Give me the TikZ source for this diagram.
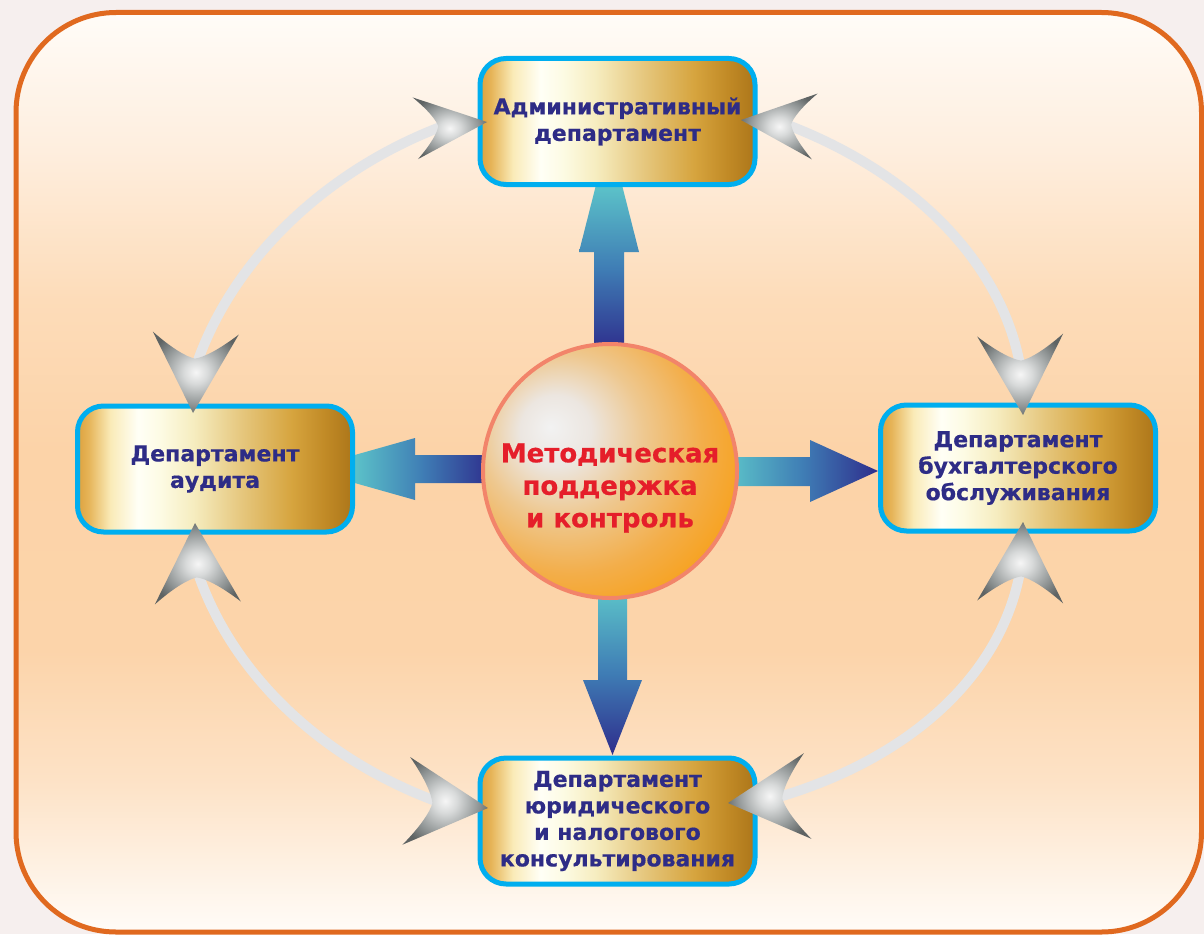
\documentclass[tikz,border=0pt]{standalone}
\usepackage{fontspec}
\setmainfont{DejaVu Sans}[BoldFeatures={FakeBold=0.6}]
\usetikzlibrary{calc}
\pgfdeclarelayer{bg}
\pgfdeclarelayer{mid}
\pgfsetlayers{bg,mid,main}

\definecolor{outerbg}{HTML}{F6EFEE}
\definecolor{framec}{HTML}{E0691F}
\definecolor{pk0}{HTML}{FFFCF8}
\definecolor{pk1}{HTML}{FEEEDE}
\definecolor{pk2}{HTML}{FDDCB9}
\definecolor{pk3}{HTML}{FCD3A8}
\definecolor{pk4}{HTML}{FCD4AA}
\definecolor{pk5}{HTML}{FDE2C6}
\definecolor{cyanb}{HTML}{00AEEF}
\definecolor{navytxt}{HTML}{2E2C86}
\definecolor{redtxt}{HTML}{E51E2A}
\definecolor{salmonb}{HTML}{F2846A}
\definecolor{ringc}{HTML}{E3E4E6}
\definecolor{arrteal}{HTML}{5CC3C9}
\definecolor{arrmid}{HTML}{3F7DB5}
\definecolor{arrnavy}{HTML}{2E2D8C}
% gold
\definecolor{g0}{HTML}{DDA23E}
\definecolor{g1}{HTML}{E6B458}
\definecolor{g2}{HTML}{FAEBB8}
\definecolor{g3}{HTML}{FFFFF6}
\definecolor{g4}{HTML}{FDFBE4}
\definecolor{g5}{HTML}{F6EDC0}
\definecolor{g6}{HTML}{E5C67C}
\definecolor{g7}{HTML}{D6A43E}
\definecolor{g8}{HTML}{C18A26}
\definecolor{g9}{HTML}{AC761A}
% ball
\definecolor{b0}{HTML}{F2F2F2}
\definecolor{b1}{HTML}{ECE6E0}
\definecolor{b2}{HTML}{EEC890}
\definecolor{b3}{HTML}{F3AE4A}
\definecolor{b4}{HTML}{F7A21F}
\definecolor{b5}{HTML}{F3A83C}
\definecolor{b6}{HTML}{EEB468}
% silver
\definecolor{sv0}{HTML}{F6F6F6}
\definecolor{sv1}{HTML}{D8DADA}
\definecolor{sv2}{HTML}{8E9393}
\definecolor{sv3}{HTML}{5E6363}

\pgfdeclareverticalshading{bgpeach}{100bp}{color(0bp)=(pk0); color(25bp)=(pk0); color(33.3bp)=(pk5); color(40.3bp)=(pk4); color(51.2bp)=(pk3); color(59.4bp)=(pk2); color(67.5bp)=(pk1); color(75bp)=(pk0); color(100bp)=(pk0)}
\pgfdeclarehorizontalshading{gold}{100bp}{color(0bp)=(g0); color(25bp)=(g0); color(27bp)=(g1); color(31bp)=(g2); color(36bp)=(g3); color(40bp)=(g4); color(46bp)=(g5); color(55bp)=(g6); color(64bp)=(g7); color(70bp)=(g8); color(75bp)=(g9); color(100bp)=(g9)}
\pgfdeclareradialshading{ball}{\pgfpoint{-11.8bp}{8.7bp}}{color(0bp)=(b0); color(7bp)=(b1); color(16bp)=(b2); color(26bp)=(b3); color(34bp)=(b4); color(42bp)=(b5); color(50bp)=(b6); color(80bp)=(b6)}
\pgfdeclareradialshading{silverball}{\pgfpoint{0bp}{0bp}}{color(0bp)=(sv0); color(7bp)=(sv1); color(20bp)=(sv2); color(28bp)=(sv3); color(60bp)=(sv3)}

\tikzset{
  dept/.style={rectangle, rounded corners=26, draw=cyanb, line width=5, shade, shading=gold,
    minimum width=275, minimum height=126, inner sep=0, align=center, text=navytxt,
    font=\bfseries\fontsize{22}{26.5}\selectfont},
  ball/.style={circle, draw=salmonb, line width=4, shade, shading=ball, minimum size=254, inner sep=0},
  ctext/.style={font=\bfseries\fontsize{26}{32.5}\selectfont, text=redtxt, align=center, inner sep=0},
  ring/.style={draw=ringc, line width=10},
  varr/.style={shade, top color=arrteal, bottom color=arrnavy, middle color=arrmid},
  harr/.style={shade, left color=arrteal, right color=arrnavy, middle color=arrmid},
  silver/.style={shade, shading=silverball}
}

\newcommand\chevhead[5]{%
  \begin{scope}[shift={(#1,#2)}, rotate={-(#3)}]
    \path[silver] (0,0) -- (-#4,#5)
      .. controls ({-0.8*#4},{0.55*#5}) and ({-0.7*#4},{0.2*#5}) .. ({-0.68*#4},0)
      .. controls ({-0.7*#4},{-0.2*#5}) and ({-0.8*#4},{-0.55*#5}) .. (-#4,-#5) -- cycle;
  \end{scope}}

\begin{document}
\begin{tikzpicture}[x=1pt, y=-1pt]
\useasboundingbox (0,0) rectangle (1204,934);

\begin{pgfonlayer}{bg}
  \fill[outerbg] (0,0) rectangle (1204,934);
  \path[shade, shading=bgpeach, draw=framec, line width=5, rounded corners=100] (16,12.5) rectangle (1201.5,932);
\end{pgfonlayer}

% nodes
\node[dept] (adm) at (617.5,121.5) {Административный\\департамент};
\node[dept] (aud) at (215,469) {Департамент\\аудита};
\node[dept] (buh) at (1018,468) {Департамент\\бухгалтерского\\обслуживания};
\node[dept] (jur) at (617.5,821) {Департамент\\юридического\\и~налогового\\консультирования};
\node[ball] (mc) at (610,471) {};
\node[ctext] (mct) at (610,488) {Методическая\\поддержка\\и~контроль};

% connector end points
\coordinate (nAdmL) at (443,126);
\coordinate (nAudT) at (195,369);
\coordinate (nAdmR) at (785,124);
\coordinate (nBuhT) at (1021,371);
\coordinate (nJurL) at (444,804);
\coordinate (nAudB) at (196,567);
\coordinate (nJurR) at (772,799);
\coordinate (nBuhB) at (1021,566);

\begin{pgfonlayer}{mid}
  \draw[ring] (nAdmL) .. controls (324,171) and (230,262) .. (nAudT);
  \draw[ring] (nAdmR) .. controls (910,171) and (1004,262) .. (nBuhT);
  \draw[ring] (nJurL) .. controls (324,762) and (230,674) .. (nAudB);
  \draw[ring] (nJurR) .. controls (910,760) and (1004,674) .. (nBuhB);
  % blue arrows from the centre
  \path[varr] (594,352) -- (594,252) -- (579,252) -- (596,185) -- (622,185) -- (639,252) -- (624,252) -- (624,352) -- cycle;
  \path[varr] (598,590) -- (598,680) -- (583,680) -- (612.5,755) -- (642,680) -- (627,680) -- (627,590) -- cycle;
  \path[harr] (492,455) -- (415,455) -- (415,438) -- (353,455.5) -- (353,482.5) -- (415,500) -- (415,483) -- (492,483) -- cycle;
  \path[harr] (728,457) -- (810,457) -- (810,440) -- (878,471) -- (810,502) -- (810,486) -- (728,486) -- cycle;
\end{pgfonlayer}

% silver arrow heads
\chevhead{487}{122}{-5}{72}{31}
\chevhead{741}{120}{185}{74}{33}
\chevhead{193}{413}{92}{80}{43}
\chevhead{1023}{415}{88}{80}{43}
\chevhead{195}{523}{-92}{80}{43}
\chevhead{1023}{522}{-88}{80}{43}
\chevhead{488}{808}{5}{82}{44}
\chevhead{728}{803}{175}{80}{43}
\end{tikzpicture}
\end{document}
